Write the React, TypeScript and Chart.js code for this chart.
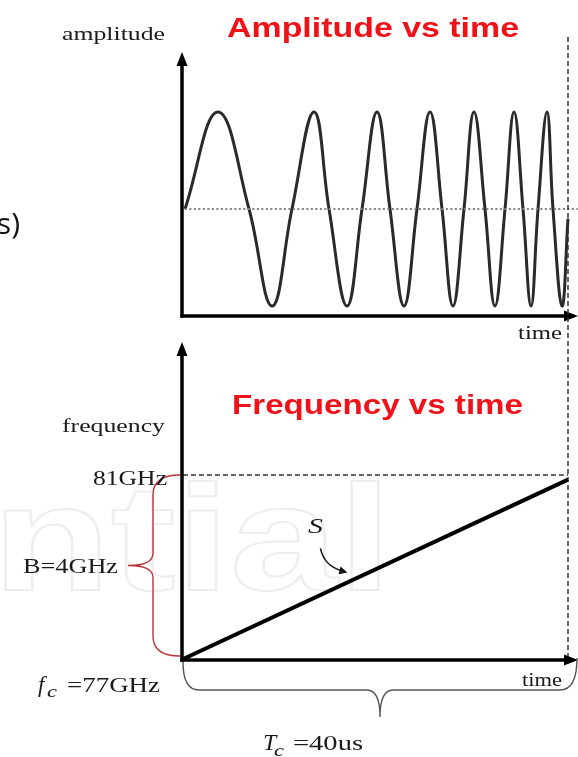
import { useEffect, useRef } from 'react';
import { Chart, registerables } from 'chart.js';

Chart.register(...registerables);

const W = 578;
const H = 757;

// ---- data ----
// chirp signal (amplitude vs time): time of each extremum / zero crossing and its amplitude
const sineTime = [0.41, 3.82, 7.03, 9.41, 11.47, 13.75, 15.3, 17.16, 18.71, 20.26, 21.6, 23.05, 24.39, 25.74, 26.98, 28.11, 29.25, 30.28, 31.42, 32.45, 33.49, 34.42, 35.35, 36.18, 36.9, 37.83, 38.45, 39.38, 40.0];
const sineAmp = [0, 1, 0, -1, 0, 1, 0, -1, 0, 1, 0, -1, 0, 1, 0, -1, 0, 1, 0, -1, 0, 1, 0, -1, 0, 1, 0, -1, -0.1];
const midTime = [0.4, 41.0];
const midAmp = [0, 0];

// frequency ramp (frequency vs time), GHz over us
const rampTime = [0, 40];
const rampFreq = [77, 80.9];
const topFreqTime = [0.2, 40];
const topFreqValue = [81, 81];

const chirpDuration = 40; // Tc (us)
const startFreq = 77; // fc (GHz)
const stopFreq = 81; // GHz
const slopeTime = 17.2; // where the "S" arrow points

const SERIF = '"Liberation Serif", "DejaVu Serif", serif';
const SANS = '"Liberation Sans", Arial, sans-serif';
const INK = '#1a1a1a';
const RED = '#f01218';

function pts(xs: number[], ys: number[]) {
  return xs.map((x, i) => ({ x, y: ys[i] }));
}

function txt(ctx: CanvasRenderingContext2D, s: string, left: number, right: number | null, baseline: number, font: string, color: string) {
  ctx.save();
  ctx.font = font;
  ctx.fillStyle = color;
  ctx.textBaseline = 'alphabetic';
  ctx.textAlign = 'left';
  const w = ctx.measureText(s).width;
  const sx = right != null ? (right - left) / w : 1;
  ctx.translate(left, baseline);
  ctx.scale(sx, 1);
  ctx.fillText(s, 0, 0);
  ctx.restore();
}

function drawAxes(ctx: CanvasRenderingContext2D, area: any, tipX: number) {
  ctx.save();
  ctx.strokeStyle = '#000';
  ctx.fillStyle = '#000';
  ctx.lineWidth = 3.5;
  ctx.setLineDash([]);
  const x0 = area.left + 1;
  const y0 = area.bottom;
  ctx.beginPath();
  ctx.moveTo(x0, y0 + 1.7);
  ctx.lineTo(x0, area.top + 10);
  ctx.stroke();
  ctx.beginPath();
  ctx.moveTo(x0, area.top);
  ctx.lineTo(x0 - 5.5, area.top + 14);
  ctx.lineTo(x0 + 5.5, area.top + 14);
  ctx.closePath();
  ctx.fill();
  ctx.beginPath();
  ctx.moveTo(x0 - 1.7, y0);
  ctx.lineTo(tipX - 10, y0);
  ctx.stroke();
  ctx.beginPath();
  ctx.moveTo(tipX, y0);
  ctx.lineTo(tipX - 14, y0 - 5.5);
  ctx.lineTo(tipX - 14, y0 + 5.5);
  ctx.closePath();
  ctx.fill();
  ctx.restore();
}

const topDecor = {
  id: 'topDecor',
  beforeDraw(chart: any) {
    const ctx = chart.ctx as CanvasRenderingContext2D;
    // faint watermark
    ctx.save();
    ctx.font = `bold 150px ${SANS}`;
    ctx.strokeStyle = '#eeeeee';
    ctx.lineWidth = 2;
    const w = ctx.measureText('ntial').width;
    ctx.translate(-8, 590);
    ctx.scale(400 / w, 1);
    ctx.strokeText('ntial', 0, 0);
    ctx.restore();
  },
  afterDraw(chart: any) {
    const ctx = chart.ctx as CanvasRenderingContext2D;
    const area = chart.chartArea;
    const xs = chart.scales.x;
    drawAxes(ctx, area, W);
    // Tc dashed vertical
    const xT = xs.getPixelForValue(chirpDuration);
    ctx.save();
    ctx.strokeStyle = '#333';
    ctx.lineWidth = 1.5;
    ctx.setLineDash([5, 3]);
    ctx.beginPath();
    ctx.moveTo(xT, 37);
    ctx.lineTo(xT, 658);
    ctx.stroke();
    ctx.restore();
    txt(ctx, 'amplitude', 62, 165, 40, `19px ${SERIF}`, INK);
    txt(ctx, 'Amplitude vs time', 227, 519, 37, `bold 28px ${SANS}`, RED);
    txt(ctx, 'time', 518, 562, 339, `19px ${SERIF}`, INK);
    ctx.save();
    ctx.font = `30px "Open Sans", ${SANS}`;
    ctx.fillStyle = '#111';
    ctx.textAlign = 'right';
    ctx.fillText('s)', 20, 234);
    ctx.restore();
  },
};

const bottomDecor = {
  id: 'bottomDecor',
  afterDraw(chart: any) {
    const ctx = chart.ctx as CanvasRenderingContext2D;
    const area = chart.chartArea;
    const xs = chart.scales.x;
    const ys = chart.scales.y;
    drawAxes(ctx, area, W);

    // red brace for bandwidth
    const top = ys.getPixelForValue(stopFreq);
    const bot = ys.getPixelForValue(startFreq) - 4;
    const mid = (top + bot) / 2;
    const xe = area.left - 1;
    const xm = area.left - 28;
    const xt = area.left - 53;
    ctx.save();
    ctx.strokeStyle = '#b8353a';
    ctx.lineWidth = 1.4;
    ctx.beginPath();
    ctx.moveTo(xe, top);
    ctx.quadraticCurveTo(xm, top, xm, top + 20);
    ctx.lineTo(xm, mid - 12);
    ctx.quadraticCurveTo(xm, mid, xt, mid);
    ctx.quadraticCurveTo(xm, mid, xm, mid + 12);
    ctx.lineTo(xm, bot - 20);
    ctx.quadraticCurveTo(xm, bot, xe, bot);
    ctx.stroke();
    ctx.restore();

    // bottom brace for Tc
    const l = xs.getPixelForValue(0) + 2;
    const r = xs.getPixelForValue(chirpDuration) + 9;
    const y0 = area.bottom + 2;
    const yl = area.bottom + 30;
    const yt = area.bottom + 57;
    const cx = (l + r) / 2;
    ctx.save();
    ctx.strokeStyle = '#555';
    ctx.lineWidth = 1.4;
    ctx.beginPath();
    ctx.moveTo(l, y0);
    ctx.quadraticCurveTo(l, yl, l + 16, yl);
    ctx.lineTo(cx - 13, yl);
    ctx.quadraticCurveTo(cx, yl, cx, yt);
    ctx.quadraticCurveTo(cx, yl, cx + 13, yl);
    ctx.lineTo(r - 17, yl);
    ctx.quadraticCurveTo(r, yl, r, y0 - 4);
    ctx.stroke();
    ctx.restore();

    // S arrow pointing at the ramp
    const f = rampFreq[0] + ((rampFreq[1] - rampFreq[0]) * (slopeTime - rampTime[0])) / (rampTime[1] - rampTime[0]);
    const ax = xs.getPixelForValue(slopeTime);
    const ay = ys.getPixelForValue(f) - 10;
    const sx = ax - 27;
    const sy = ay - 24;
    const cxp = sx + 4;
    const cyp = ay - 6;
    ctx.save();
    ctx.strokeStyle = '#111';
    ctx.fillStyle = '#111';
    ctx.lineWidth = 1.5;
    ctx.beginPath();
    ctx.moveTo(sx, sy);
    ctx.quadraticCurveTo(cxp, cyp, ax - 5, ay - 1.5);
    ctx.stroke();
    const ang = Math.atan2(ay - cyp, ax - cxp);
    ctx.beginPath();
    ctx.moveTo(ax, ay);
    ctx.lineTo(ax - 9 * Math.cos(ang - 0.45), ay - 9 * Math.sin(ang - 0.45));
    ctx.lineTo(ax - 9 * Math.cos(ang + 0.45), ay - 9 * Math.sin(ang + 0.45));
    ctx.closePath();
    ctx.fill();
    ctx.restore();

    // texts
    txt(ctx, 'Frequency vs time', 232, 523, 414, `bold 28px ${SANS}`, RED);
    txt(ctx, 'frequency', 62, 165, 432, `19px ${SERIF}`, INK);
    txt(ctx, '81GHz', 93, 167, 485, `20px ${SERIF}`, INK);
    txt(ctx, 'B=4GHz', 23, 118, 573, `20px ${SERIF}`, INK);
    txt(ctx, 'f', 38, null, 692, `italic 23px ${SERIF}`, INK);
    txt(ctx, 'c', 47, 57, 697, `italic 17px ${SERIF}`, INK);
    txt(ctx, '=77GHz', 67, 160, 692, `20px ${SERIF}`, INK);
    txt(ctx, 'time', 522, 562, 686, `19px ${SERIF}`, INK);
    txt(ctx, 'S', 308, 323, 533, `italic 22px ${SERIF}`, INK);
    txt(ctx, 'T', 263, null, 750, `italic 24px ${SERIF}`, INK);
    txt(ctx, 'c', 274, 284, 756, `italic 17px ${SERIF}`, INK);
    txt(ctx, '=40us', 293, 363, 750, `21px ${SERIF}`, INK);
  },
};

const common: any = {
  animation: false,
  responsive: false,
  devicePixelRatio: 1,
  events: [],
  plugins: { legend: { display: false }, tooltip: { enabled: false } },
  elements: { point: { radius: 0 } },
};

export default function App() {
  const r1 = useRef<HTMLCanvasElement>(null);
  const r2 = useRef<HTMLCanvasElement>(null);

  useEffect(() => {
    const c1 = new Chart(r1.current as HTMLCanvasElement, {
      type: 'line',
      data: {
        datasets: [
          {
            data: pts(midTime, midAmp),
            borderColor: '#808080',
            borderWidth: 2,
            borderDash: [2, 2.5],
            clip: false,
          } as any,
          {
            data: pts(sineTime, sineAmp),
            borderColor: '#2a2a2a',
            borderWidth: 3,
            tension: 0.42,
            clip: false,
          } as any,
        ],
      },
      options: {
        ...common,
        layout: { padding: { left: 181, top: 52, right: 10, bottom: H - 316 } },
        scales: {
          x: { type: 'linear', min: 0, max: chirpDuration, display: false },
          y: { type: 'linear', min: -1.103, max: 1.619, display: false },
        },
      },
      plugins: [topDecor],
    });

    const c2 = new Chart(r2.current as HTMLCanvasElement, {
      type: 'line',
      data: {
        datasets: [
          {
            data: pts(topFreqTime, topFreqValue),
            borderColor: '#333',
            borderWidth: 1.5,
            borderDash: [5, 3],
            clip: false,
          } as any,
          {
            data: pts(rampTime, rampFreq),
            borderColor: '#000',
            borderWidth: 4,
            clip: false,
          } as any,
        ],
      },
      options: {
        ...common,
        layout: { padding: { left: 181, top: 342, right: 10, bottom: H - 660 } },
        scales: {
          x: { type: 'linear', min: 0, max: chirpDuration, display: false },
          y: { type: 'linear', min: startFreq, max: 83.876, display: false },
        },
      },
      plugins: [bottomDecor],
    });

    return () => {
      c1.destroy();
      c2.destroy();
    };
  }, []);

  return (
    <div style={{ position: 'absolute', left: 0, top: 0, width: W, height: H, background: '#fff', overflow: 'hidden' }}>
      <canvas ref={r1} width={W} height={H} style={{ position: 'absolute', left: 0, top: 0 }} />
      <canvas ref={r2} width={W} height={H} style={{ position: 'absolute', left: 0, top: 0 }} />
    </div>
  );
}
